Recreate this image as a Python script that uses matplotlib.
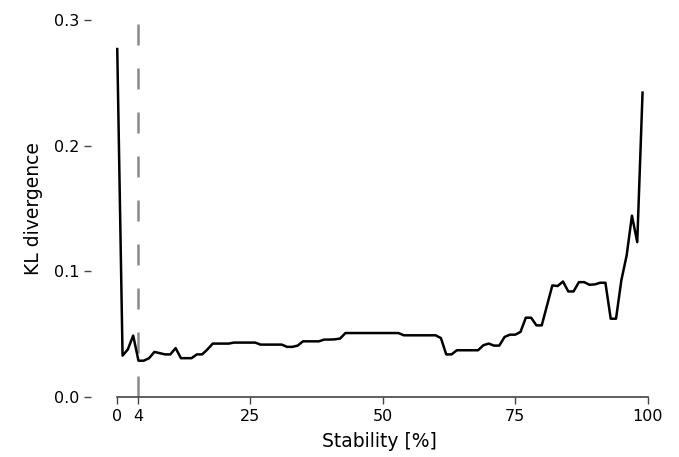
import numpy as np
import matplotlib
matplotlib.use("Agg")
import matplotlib.pyplot as plt

stability = np.arange(100)
kl_div = [
    0.277, 0.033, 0.038, 0.049, 0.029, 0.029, 0.031, 0.036, 0.035, 0.034,
    0.034, 0.039, 0.031, 0.031, 0.031, 0.034, 0.034, 0.038, 0.0426, 0.0426,
    0.0426, 0.0426, 0.0434, 0.0434, 0.0434, 0.0434, 0.0434, 0.0418, 0.0418, 0.0418,
    0.0418, 0.0418, 0.040, 0.040, 0.041, 0.0444, 0.0444, 0.0444, 0.0444, 0.0458,
    0.0458, 0.046, 0.0466, 0.051, 0.051, 0.051, 0.051, 0.051, 0.051, 0.051,
    0.051, 0.051, 0.051, 0.051, 0.0492, 0.0492, 0.0492, 0.0492, 0.0492, 0.0492,
    0.0492, 0.047, 0.034, 0.034, 0.0373, 0.0373, 0.0373, 0.0373, 0.0373, 0.0413,
    0.0426, 0.041, 0.041, 0.0479, 0.0497, 0.0497, 0.0519, 0.0632, 0.0632, 0.0571,
    0.0571, 0.073, 0.0889, 0.0884, 0.092, 0.0841, 0.0841, 0.0915, 0.0915, 0.0894,
    0.0897, 0.091, 0.091, 0.0624, 0.0624, 0.0929, 0.1127, 0.1444, 0.1233, 0.2423,
]
threshold = 4
xticks = [0, 4, 25, 50, 75, 100]
yticks = [0.0, 0.1, 0.2, 0.3]

fig = plt.figure(figsize=(6.79, 4.57), dpi=100)
ax = fig.add_axes([0.134, 0.131, 0.851, 0.825])

ax.plot(stability, kl_div, color="black", lw=1.8, zorder=3)
# long dashes, measured in multiples of the line width
ax.axvline(threshold, color="#8a8a8a", lw=1.8, dashes=(8.4, 9.2), zorder=2)

ax.set_xlim(-4.95, 103.95)
ax.set_ylim(0, 0.3)
ax.set_xticks(xticks)
ax.set_yticks(yticks)
ax.set_yticklabels([f"{v:.1f}" for v in yticks])

for side in ["left", "top", "right"]:
    ax.spines[side].set_visible(False)
ax.spines["bottom"].set_bounds(0, 100)
ax.spines["bottom"].set_color("#444444")
ax.spines["bottom"].set_linewidth(1.2)
ax.tick_params(axis="both", labelsize=11.5, color="#444444", length=5, width=1)

ax.set_xlabel("Stability [%]", fontsize=13.5, labelpad=6)
ax.set_ylabel("KL divergence", fontsize=13.5, labelpad=8)

fig.savefig("out.png", dpi=100)
